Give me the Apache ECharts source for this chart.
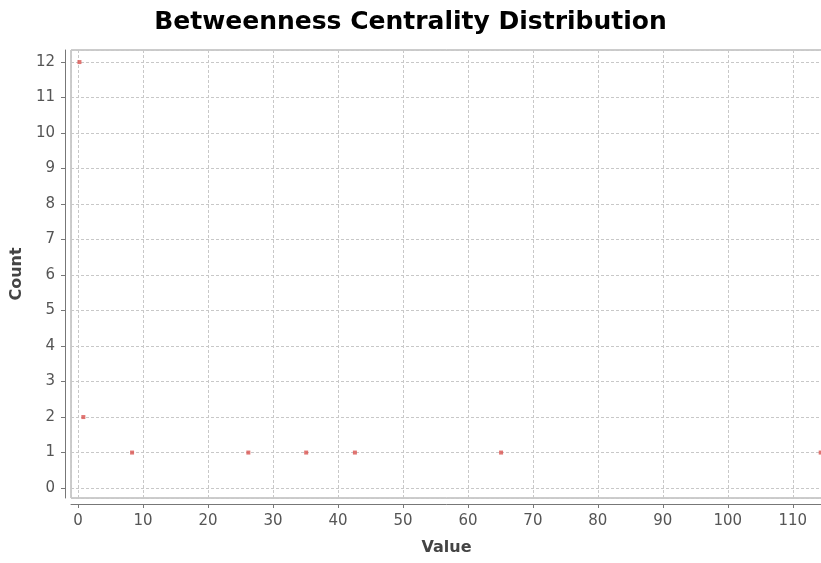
<!DOCTYPE html>
<html>
<head>
<meta charset="utf-8">
<script src="https://cdn.jsdelivr.net/npm/echarts@6/dist/echarts.min.js"></script>
<style>html,body{margin:0;padding:0;background:#fff;}#c{width:821px;height:563px;}</style>
</head>
<body>
<div id="c"></div>
<script>
var titleText = 'Betweenness Centrality Distribution';
var xName = 'Value';
var yName = 'Count';
var xValues = [0.2, 0.8, 8.3, 26.2, 35.1, 42.6, 65.1, 114.3];
var yValues = [12, 2, 1, 1, 1, 1, 1, 1];

var points = xValues.map(function (x, i) { return [x, yValues[i]]; });
var chart = echarts.init(document.getElementById('c'), null, {renderer: 'canvas'});
var tickFont = {color: '#555', fontSize: 15, fontFamily: 'DejaVu Sans'};
var nameFont = {fontFamily: 'DejaVu Sans', fontWeight: 'bold', fontSize: 16, color: '#444'};
chart.setOption({
  animation: false,
  backgroundColor: '#fff',
  title: {
    text: titleText, left: 'center', top: 5,
    textStyle: {fontFamily: 'DejaVu Sans', fontWeight: 'bold', fontSize: 25, color: '#000'}
  },
  grid: {left: 71, top: 50, right: -1, bottom: 65, containLabel: false, outerBoundsMode: 'none',
    show: true, borderColor: '#999', borderWidth: 1, backgroundColor: '#fff'},
  xAxis: {
    type: 'value', min: -1.1, max: 114.5, splitNumber: 11, offset: 6,
    name: xName, nameLocation: 'middle', nameGap: 36,
    nameTextStyle: nameFont,
    axisLine: {show: true, onZero: false, lineStyle: {color: '#777'}},
    axisTick: {show: true, length: 4, lineStyle: {color: '#777'}},
    axisLabel: Object.assign({showMinLabel: false, showMaxLabel: false, margin: 10}, tickFont),
    splitLine: {show: true, lineStyle: {color: '#c8c8c8', type: [3, 2]}}
  },
  yAxis: {
    type: 'value', min: -0.28, max: 12.34, splitNumber: 12, offset: 6,
    name: yName, nameLocation: 'middle', nameGap: 37, nameRotate: 90,
    nameTextStyle: nameFont,
    axisLine: {show: true, onZero: false, lineStyle: {color: '#777'}},
    axisTick: {show: true, length: 4, lineStyle: {color: '#777'}},
    axisLabel: Object.assign({showMinLabel: false, showMaxLabel: false, margin: 10}, tickFont),
    splitLine: {show: true, lineStyle: {color: '#c8c8c8', type: [3, 2]}}
  },
  series: [{
    type: 'scatter', data: points, symbol: 'rect', symbolSize: 4,
    itemStyle: {color: '#d9534f'}
  }]
});
</script>
</body>
</html>
